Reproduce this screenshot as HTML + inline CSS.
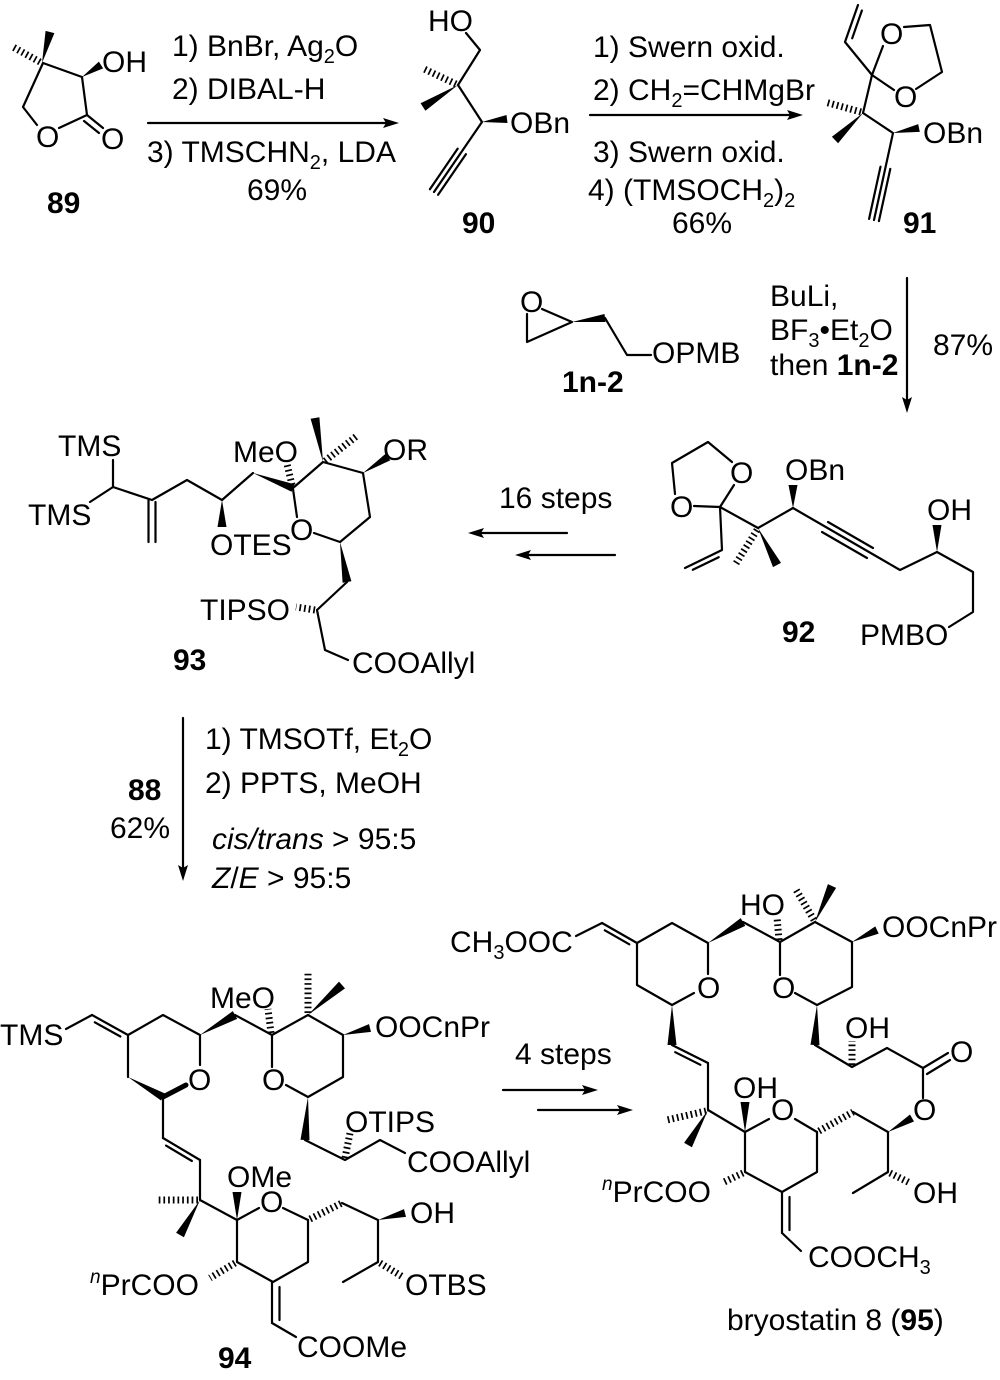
<!DOCTYPE html>
<html><head><meta charset="utf-8">
<style>
html,body{margin:0;padding:0;background:#fff}
svg{display:block}
text{font-family:"Liberation Sans",Arial,sans-serif;font-size:30px;fill:#000}
.b{font-weight:bold}
.s{font-size:20px}
line,polyline{stroke:#000;stroke-width:2.2;fill:none;stroke-linecap:round;stroke-linejoin:round}
.h{stroke-width:7;stroke-dasharray:1.7 3;stroke-linecap:butt}
.bold{stroke-width:5}
polygon{fill:#000;stroke:none}
</style></head><body>
<svg width="1000" height="1380" viewBox="0 0 1000 1380" xmlns="http://www.w3.org/2000/svg">

<!-- ===== 89 ===== -->
<polyline points="37,125 23,107 43,63 82,77 87,115 59,128"/>
<line x1="87" y1="115" x2="103" y2="128"/>
<line x1="84" y1="121" x2="99" y2="133"/>
<polygon points="42,63 54.4,33.1 45.6,30.9"/>
<polygon points="82,77 103.1,68.4 98.9,61.6"/>
<line class="h" x1="40" y1="62" x2="13" y2="47"/>
<text x="36" y="147">O</text>
<text x="101" y="149">O</text>
<text x="102" y="72">OH</text>
<text class="b" x="47" y="213">89</text>

<!-- arrow 1 -->
<line x1="148" y1="123" x2="390" y2="123"/>
<polygon points="399,123 383,118 386,123 383,128"/>
<text x="172" y="56">1) BnBr, Ag<tspan class="s" dy="7">2</tspan><tspan dy="-7">O</tspan></text>
<text x="172" y="99">2) DIBAL-H</text>
<text x="147" y="162">3) TMSCHN<tspan class="s" dy="7">2</tspan><tspan dy="-7">, LDA</tspan></text>
<text x="247" y="200">69%</text>

<!-- ===== 90 ===== -->
<text x="428" y="31">HO</text>
<polyline points="466,33 480,50 458,85 482,122 434,192"/>
<line x1="457.7" y1="148.6" x2="429.9" y2="189.2"/>
<line x1="465.9" y1="154.2" x2="438.1" y2="194.8"/>
<line class="h" x1="456" y1="84" x2="422" y2="68"/>
<polygon points="458,85 420.6,103.2 425.4,110.8"/>
<polygon points="482,122 507.5,123 506.5,115"/>
<text x="510" y="133">OBn</text>
<text class="b" x="462" y="233">90</text>

<!-- arrow 2 -->
<line x1="590" y1="115" x2="795" y2="115"/>
<polygon points="803,115 787,110 790,115 787,120"/>
<text x="593" y="57">1) Swern oxid.</text>
<text x="593" y="100">2) CH<tspan class="s" dy="7">2</tspan><tspan dy="-7">=CHMgBr</tspan></text>
<text x="593" y="162">3) Swern oxid.</text>
<text x="588" y="200">4) (TMSOCH<tspan class="s" dy="7">2</tspan><tspan dy="-7">)</tspan><tspan class="s" dy="7">2</tspan></text>
<text x="672" y="233">66%</text>

<!-- ===== 91 ===== -->
<polyline points="858,5 845,42 872,75 863,113 893,133 874,220"/>
<line x1="852.2" y1="38.3" x2="861.9" y2="10.5"/>
<line x1="872" y1="75" x2="883" y2="46"/>
<line x1="872" y1="75" x2="894" y2="90"/>
<polyline points="904,27 930,25 942,72 916,89"/>
<line x1="880.5" y1="166.7" x2="869.1" y2="218.9"/>
<line x1="890.3" y1="168.9" x2="878.9" y2="221.1"/>
<line class="h" x1="861" y1="112" x2="825" y2="102"/>
<polygon points="863,113 831.9,136.8 838.1,143.2"/>
<polygon points="893,133 919.8,131.9 918.2,124.1"/>
<text x="880" y="44">O</text>
<text x="894" y="107">O</text>
<text x="923" y="143">OBn</text>
<text class="b" x="903" y="233">91</text>

<!-- arrow 3 -->
<line x1="907" y1="278" x2="907" y2="405"/>
<polygon points="907,413 902,397 907,400 912,397"/>
<text x="770" y="306">BuLi,</text>
<text x="770" y="340">BF<tspan class="s" dy="7">3</tspan><tspan dy="-7">•Et</tspan><tspan class="s" dy="7">2</tspan><tspan dy="-7">O</tspan></text>
<text x="770" y="375">then <tspan class="b">1n-2</tspan></text>
<text x="933" y="355">87%</text>

<!-- 1n-2 -->
<polyline points="527,314 527,342 572,322 542,309"/>
<polygon points="572,322 605.5,322 604.5,314"/>
<polyline points="605,318 627,355 651,355"/>
<text x="520" y="312">O</text>
<text x="652" y="363">OPMB</text>
<text class="b" x="562" y="392">1n-2</text>

<!-- 16 steps arrows -->
<text x="499" y="508">16 steps</text>
<line x1="475" y1="533" x2="567" y2="533"/>
<polygon points="468,533 484,528 481,533 484,538"/>
<line x1="522" y1="555" x2="615" y2="555"/>
<polygon points="515,555 531,550 528,555 531,560"/>

<!-- ===== 92 ===== -->
<polyline points="675,494 672,463 708,442 732,462"/>
<line x1="720" y1="507" x2="694" y2="506"/>
<line x1="720" y1="507" x2="734" y2="485"/>
<polyline points="685,568 722,550 720,507 758,528 793,508 900,570 937,552 973,572 973,612 949,627"/>
<line x1="718.7" y1="557.2" x2="692.8" y2="569.8"/>
<line x1="822" y1="532" x2="867" y2="558"/>
<line x1="828" y1="522" x2="873" y2="548"/>
<line class="h" x1="757" y1="530" x2="735" y2="565"/>
<polygon points="758,528 773,567.1 781,562.9"/>
<polygon points="793,508 797.5,485 788.5,485"/>
<polygon points="937,552 941.5,525 932.5,525"/>
<text x="670" y="517">O</text>
<text x="730" y="483">O</text>
<text x="785" y="480">OBn</text>
<text x="927" y="520">OH</text>
<text x="860" y="645">PMBO</text>
<text class="b" x="782" y="642">92</text>

<!-- ===== 93 ===== -->
<line x1="113" y1="460" x2="113" y2="487"/>
<line x1="113" y1="487" x2="90" y2="502"/>
<polyline points="113,487 152,500 187,480 222,500 253,473"/>
<line x1="148.5" y1="500" x2="148.5" y2="542"/>
<line x1="155.5" y1="502" x2="155.5" y2="542"/>
<polygon points="222,500 226.5,527 217.5,527"/>
<polygon points="253,473 291.6,491.7 294.4,484.3"/>
<polyline points="293,488 323,462 363,473 370,517 340,542 314,533"/>
<line x1="297" y1="517" x2="293" y2="489"/>
<line class="h" x1="292" y1="485" x2="287" y2="464"/>
<polygon points="323,462 319.4,417.2 310.6,418.8"/>
<line class="h" x1="325" y1="461" x2="358" y2="435"/>
<polygon points="363,473 390.2,460.4 385.8,453.6"/>
<polygon points="340,542 342.6,582.8 351.4,581.2"/>
<polyline points="347,582 317,610 325,650 348,660"/>
<line class="h" x1="315" y1="610" x2="296" y2="607"/>
<text x="58" y="456">TMS</text>
<text x="28" y="525">TMS</text>
<text x="233" y="462">MeO</text>
<text x="383" y="460">OR</text>
<text x="210" y="555">OTES</text>
<text x="290" y="540">O</text>
<text x="200" y="620">TIPSO</text>
<text x="352" y="673">COOAllyl</text>
<text class="b" x="173" y="670">93</text>

<!-- arrow 4 -->
<line x1="183" y1="718" x2="183" y2="873"/>
<polygon points="183,881 178,865 183,868 188,865"/>
<text class="b" x="128" y="800">88</text>
<text x="110" y="838">62%</text>
<text x="205" y="749">1) TMSOTf, Et<tspan class="s" dy="7">2</tspan><tspan dy="-7">O</tspan></text>
<text x="205" y="793">2) PPTS, MeOH</text>
<text x="212" y="849"><tspan font-style="italic">cis/trans</tspan> &gt; 95:5</text>
<text x="212" y="888"><tspan font-style="italic">Z</tspan>/<tspan font-style="italic">E</tspan> &gt; 95:5</text>

<!-- ===== 94 ===== -->
<line x1="66" y1="1029" x2="92" y2="1015"/>
<line x1="92" y1="1015" x2="128" y2="1035"/>
<line x1="94.8" y1="1022.3" x2="120.4" y2="1036.5"/>
<polyline points="128,1035 163,1015 200,1035 200,1065"/>
<polygon points="200,1035 237.2,1018.9 232.8,1011.1"/>
<line x1="128" y1="1035" x2="128" y2="1077"/>
<polygon points="128,1077 161,1100.5 165,1093.5"/>
<line class="bold" x1="163" y1="1097" x2="186" y2="1085"/>
<line x1="163" y1="1097" x2="163" y2="1138"/>
<line x1="163" y1="1138" x2="200" y2="1160"/>
<line x1="166" y1="1145.6" x2="191.9" y2="1161"/>
<polyline points="200,1160 200,1200 237,1220"/>
<line class="h" x1="198" y1="1200" x2="158" y2="1200"/>
<polygon points="200,1200 176.1,1232.8 183.9,1237.2"/>
<polygon points="237,1220 241.5,1192 232.5,1192"/>
<line x1="237" y1="1220" x2="259" y2="1208"/>
<line x1="283" y1="1208" x2="308" y2="1220"/>
<line class="h" x1="310" y1="1219" x2="342" y2="1203"/>
<polyline points="342,1203 378,1220 378,1262 343,1282"/>
<polygon points="378,1220 406,1216.9 404,1209.1"/>
<line class="h" x1="380" y1="1263" x2="403" y2="1277"/>
<polyline points="237,1220 237,1262 273,1282 308,1262 308,1220"/>
<line class="h" x1="235" y1="1263" x2="210" y2="1278"/>
<line x1="272" y1="1282" x2="272" y2="1323"/>
<line x1="279.5" y1="1287" x2="279.5" y2="1320"/>
<line x1="272" y1="1323" x2="296" y2="1337"/>
<polyline points="235,1015 272,1035 308,1015 343,1035 343,1077 308,1097 286,1085"/>
<line x1="272" y1="1067" x2="272" y2="1035"/>
<line class="h" x1="271" y1="1033" x2="268" y2="1009"/>
<line class="h" x1="308" y1="1013" x2="308" y2="972"/>
<polygon points="308,1015 345,988.4 339,981.6"/>
<polygon points="343,1035 371,1031.9 369,1024.1"/>
<polygon points="308,1097 300.5,1139.7 309.5,1140.3"/>
<polyline points="305,1140 345,1160 380,1140 405,1153"/>
<line class="h" x1="345" y1="1158" x2="350" y2="1133"/>
<text x="0" y="1045">TMS</text>
<text x="210" y="1008">MeO</text>
<text x="375" y="1037">OOCnPr</text>
<text x="188" y="1090">O</text>
<text x="262" y="1090">O</text>
<text x="345" y="1132">OTIPS</text>
<text x="407" y="1172">COOAllyl</text>
<text x="227" y="1187">OMe</text>
<text x="260" y="1212">O</text>
<text x="410" y="1223">OH</text>
<text x="90" y="1295"><tspan font-size="19" font-style="italic" dy="-12">n</tspan><tspan dy="12">PrCOO</tspan></text>
<text x="405" y="1295">OTBS</text>
<text x="297" y="1357">COOMe</text>
<text class="b" x="218" y="1368">94</text>

<!-- arrow 5 -->
<text x="515" y="1064">4 steps</text>
<line x1="503" y1="1090" x2="590" y2="1090"/>
<polygon points="598,1090 582,1085 585,1090 582,1095"/>
<line x1="538" y1="1110" x2="625" y2="1110"/>
<polygon points="633,1110 617,1105 620,1110 617,1115"/>

<!-- ===== 95 ===== -->
<line x1="576" y1="936" x2="602" y2="923"/>
<line x1="602" y1="923" x2="637" y2="943"/>
<line x1="604.8" y1="930.3" x2="629.3" y2="944.3"/>
<polyline points="637,943 672,923 708,943 708,974"/>
<polygon points="708,943 745.3,925.9 740.7,918.1"/>
<polyline points="637,943 637,985 672,1005 694,993"/>
<polygon points="672,1005 676.5,1045 667.5,1045"/>
<line x1="672" y1="1045" x2="708" y2="1063"/>
<line x1="675.2" y1="1052.2" x2="700.4" y2="1064.8"/>
<polyline points="708,1063 708,1110 745,1132"/>
<line class="h" x1="706" y1="1111" x2="667" y2="1120"/>
<polygon points="708,1110 684.1,1142.8 691.9,1147.2"/>
<polygon points="745,1132 749.5,1102 740.5,1102"/>
<line x1="745" y1="1132" x2="769" y2="1119"/>
<line x1="795" y1="1119" x2="817" y2="1132"/>
<line class="h" x1="819" y1="1131" x2="853" y2="1112"/>
<polyline points="853,1112 888,1132 888,1172 853,1193"/>
<polygon points="888,1132 914,1121.5 910,1114.5"/>
<line class="h" x1="890" y1="1173" x2="910" y2="1183"/>
<polyline points="745,1132 745,1172 782,1192 817,1172 817,1132"/>
<line class="h" x1="743" y1="1173" x2="722" y2="1183"/>
<line x1="782" y1="1192" x2="782" y2="1233"/>
<line x1="789.5" y1="1197" x2="789.5" y2="1230"/>
<line x1="782" y1="1233" x2="801" y2="1251"/>
<polyline points="743,922 780,942 815,922 852,942 852,987 817,1005 795,993"/>
<line x1="780" y1="975" x2="780" y2="942"/>
<line class="h" x1="779" y1="940" x2="777" y2="917"/>
<line class="h" x1="814" y1="920" x2="795" y2="888"/>
<polygon points="815,922 836.1,887.9 827.9,884.1"/>
<polygon points="852,942 878.7,933.6 875.3,926.4"/>
<polygon points="817,1005 810.5,1044.8 819.5,1045.2"/>
<polyline points="815,1045 852,1067 887,1048 923,1068 923,1098"/>
<line class="h" x1="852" y1="1065" x2="852" y2="1041"/>
<line x1="923" y1="1068" x2="948" y2="1053"/>
<line x1="927" y1="1074" x2="950" y2="1060"/>
<text x="450" y="952">CH<tspan class="s" dy="7">3</tspan><tspan dy="-7">OOC</tspan></text>
<text x="740" y="915">HO</text>
<text x="882" y="937">OOCnPr</text>
<text x="697" y="998">O</text>
<text x="772" y="998">O</text>
<text x="845" y="1038">OH</text>
<text x="950" y="1062">O</text>
<text x="733" y="1098">OH</text>
<text x="771" y="1120">O</text>
<text x="913" y="1120">O</text>
<text x="602" y="1202"><tspan font-size="19" font-style="italic" dy="-12">n</tspan><tspan dy="12">PrCOO</tspan></text>
<text x="913" y="1203">OH</text>
<text x="808" y="1267">COOCH<tspan class="s" dy="7">3</tspan></text>
<text x="727" y="1330">bryostatin 8 (<tspan class="b">95</tspan>)</text>

</svg>
</body></html>
